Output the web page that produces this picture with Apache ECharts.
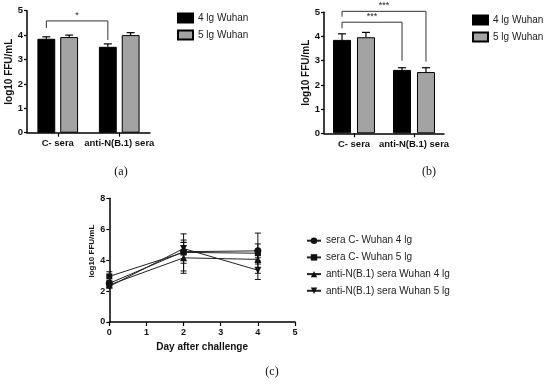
<!DOCTYPE html>
<html><head><meta charset="utf-8">
<script src="https://cdn.jsdelivr.net/npm/echarts@6/dist/echarts.min.js"></script>
<style>html,body{margin:0;padding:0;background:#fff}#c{width:550px;height:384px}</style>
</head><body><div id="c"></div>
<script>
// ---------- data ----------
const barCategories = ['C- sera', 'anti-N(B.1) sera'];
const seriesNames = ['4 lg Wuhan', '5 lg Wuhan'];
// panel (a)
const a4lg = [3.85, 3.52];
const a4lgErr = [0.08, 0.12];
const a5lg = [3.92, 4.00];
const a5lgErr = [0.08, 0.10];
// panel (b)
const b4lg = [3.86, 2.62];
const b4lgErr = [0.25, 0.09];
const b5lg = [3.97, 2.53];
const b5lgErr = [0.20, 0.18];
const barYTicks = [0, 1, 2, 3, 4, 5];
// significance brackets: [fromCat, fromSide, toCat, toSide, topY, leftLegBottom, rightLegBottom, label]
const aBrackets = [[0, -1, 1, -1, 4.58, 4.29, 3.80, '*']];
const bBrackets = [
  [0, -1, 1, -1, 4.59, 4.34, 3.00, '***'],
  [0, -1, 1, 1, 5.04, 4.82, 2.96, '***']
];
// panel (c)
const days = [0, 2, 4];
const lineNames = ['sera C- Wuhan 4 lg', 'sera C- Wuhan 5 lg', 'anti-N(B.1) sera Wuhan 4 lg', 'anti-N(B.1) sera Wuhan 5 lg'];
const cSeraC4 = [2.50, 4.55, 4.60];
const cSeraC4Err = [0.15, 0.75, 0.45];
const cSeraC5 = [2.95, 4.50, 4.45];
const cSeraC5Err = [0.30, 1.20, 1.30];
const cAnti4 = [2.40, 4.15, 4.05];
const cAnti4Err = [0.10, 1.00, 0.30];
const cAnti5 = [2.30, 4.75, 3.35];
const cAnti5Err = [0.10, 0.40, 0.60];
const cXTicks = [0, 1, 2, 3, 4, 5];
const cYTicks = [0, 2, 4, 6, 8];

// ---------- style constants ----------
const FONT = 'Liberation Sans';
const BW_A = 0.29, GAP_A = 0.28;
const BW_B = 0.30, GAP_B = 0.33;
const OFF_A = BW_A * (1 + GAP_A) / 2;
const OFF_B = BW_B * (1 + GAP_B) / 2;

function barErrRender(off) {
  return function (params, api) {
    const cat = api.value(0), side = api.value(1), v = api.value(2), e = api.value(3);
    const band = api.size([1, 0])[0];
    const p = api.coord([cat, v]);
    const x = p[0] + side * off * band;
    const top = api.coord([cat, v + e])[1];
    const st = { stroke: '#000', lineWidth: 1.2 };
    return { type: 'group', children: [
      { type: 'line', shape: { x1: x, y1: p[1], x2: x, y2: top }, style: st },
      { type: 'line', shape: { x1: x - 4, y1: top, x2: x + 4, y2: top }, style: st }
    ]};
  };
}
function bracketRender(off) {
  return function (params, api) {
    const band = api.size([1, 0])[0];
    const c1 = api.value(0), s1 = api.value(1), c2 = api.value(2), s2 = api.value(3);
    const yt = api.value(4), yl = api.value(5), yr = api.value(6);
    const x1 = api.coord([c1, 0])[0] + s1 * off * band;
    const x2 = api.coord([c2, 0])[0] + s2 * off * band;
    const t = api.coord([c1, yt])[1];
    const l = api.coord([c1, yl])[1];
    const r = api.coord([c1, yr])[1];
    const lbl = api.value(7);
    return { type: 'group', children: [
      { type: 'polyline', shape: { points: [[x1, l], [x1, t], [x2, t], [x2, r]] },
        style: { stroke: '#333', lineWidth: 1, fill: null } },
      { type: 'text', style: { text: lbl, x: (x1 + x2) / 2, y: t - 1, align: 'center', verticalAlign: 'bottom',
        fontSize: 9, fontFamily: FONT, fill: '#222' } }
    ]};
  };
}
function errPointRender(params, api) {
  const x = api.value(0), v = api.value(1), e = api.value(2);
  const p = api.coord([x, v]);
  const top = api.coord([x, v + e])[1];
  const bot = api.coord([x, v - e])[1];
  const st = { stroke: '#111', lineWidth: 1 };
  return { type: 'group', children: [
    { type: 'line', shape: { x1: p[0], y1: top, x2: p[0], y2: bot }, style: st },
    { type: 'line', shape: { x1: p[0] - 3, y1: top, x2: p[0] + 3, y2: top }, style: st },
    { type: 'line', shape: { x1: p[0] - 3, y1: bot, x2: p[0] + 3, y2: bot }, style: st }
  ]};
}

const axisLineStyle = { show: true, lineStyle: { color: '#000', width: 1.5 } };
const tickStyle = { show: true, length: 3, lineStyle: { color: '#000', width: 1.2 } };

function barX(gi) {
  return { type: 'category', gridIndex: gi, data: barCategories, axisLine: axisLineStyle,
    axisTick: { show: true, alignWithLabel: true, length: 4, lineStyle: { color: '#000', width: 1.2 } },
    axisLabel: { fontSize: 9.5, fontWeight: 'bold', fontFamily: FONT, color: '#111', margin: 6, interval: 0 } };
}
function barY(gi) {
  return { type: 'value', gridIndex: gi, min: barYTicks[0], max: barYTicks[barYTicks.length - 1], interval: 1,
    name: 'log10 FFU/mL', nameLocation: 'middle', nameGap: 11,
    nameTextStyle: { fontSize: 10, fontWeight: 'bold', fontFamily: FONT, color: '#111' },
    axisLine: axisLineStyle, axisTick: tickStyle, splitLine: { show: false },
    axisLabel: { fontSize: 9.5, fontWeight: 'bold', fontFamily: FONT, color: '#111', margin: 4 } };
}
function bars(name, vals, xi, bw, gap, color) {
  return { type: 'bar', name: name, xAxisIndex: xi, yAxisIndex: xi, data: vals,
    barWidth: (bw * 100) + '%', barGap: (gap * 100) + '%',
    itemStyle: { color: color, borderColor: '#000', borderWidth: 1 }, silent: true };
}
function errData(vals, errs, side) { return vals.map((v, i) => [i, side, v, errs[i]]); }
function ptErr(vals, errs) { return vals.map((v, i) => [days[i], v, errs[i]]); }
function line(name, vals, sym, rot) {
  return { type: 'line', name: name, xAxisIndex: 2, yAxisIndex: 2, data: days.map((d, i) => [d, vals[i]]),
    symbol: sym, symbolSize: sym === 'rect' ? 6 : 7, symbolRotate: rot || 0,
    itemStyle: { color: '#111' }, lineStyle: { color: '#222', width: 1 }, z: 3 };
}

const legendText = { fontSize: 10, fontFamily: FONT, color: '#222', lineHeight: 12 };

const option = {
  animation: false,
  backgroundColor: '#fff',
  grid: [
    { left: 27, top: 10.7, width: 123, height: 122 },
    { left: 324, top: 12.3, width: 120, height: 121 },
    { left: 109.3, top: 198.3, width: 185.7, height: 123.7 }
  ],
  xAxis: [barX(0), barX(1), {
    type: 'value', gridIndex: 2, min: cXTicks[0], max: cXTicks[cXTicks.length - 1], interval: 1,
    name: 'Day after challenge', nameLocation: 'middle', nameGap: 20,
    nameTextStyle: { fontSize: 10, fontWeight: 'bold', fontFamily: FONT, color: '#111' },
    axisLine: axisLineStyle, axisTick: { show: true, length: 4, lineStyle: { color: '#000', width: 1.2 } },
    splitLine: { show: false },
    axisLabel: { fontSize: 9, fontWeight: 'bold', fontFamily: FONT, color: '#111', margin: 6 }
  }],
  yAxis: [barY(0), barY(1), {
    type: 'value', gridIndex: 2, min: cYTicks[0], max: cYTicks[cYTicks.length - 1], interval: 2,
    name: 'log10 FFU/mL', nameLocation: 'middle', nameGap: 14,
    nameTextStyle: { fontSize: 8, fontWeight: 'bold', fontFamily: FONT, color: '#111', padding: [0, 0, 0, 18] },
    axisLine: axisLineStyle, axisTick: tickStyle, splitLine: { show: false },
    axisLabel: { fontSize: 9, fontWeight: 'bold', fontFamily: FONT, color: '#111', margin: 4 }
  }],
  legend: [
    { data: seriesNames, left: 172, top: 7, orient: 'vertical', icon: 'rect', itemWidth: 15, itemHeight: 9,
      itemGap: 5, textStyle: legendText, selectedMode: false },
    { data: seriesNames, left: 467, top: 9, orient: 'vertical', icon: 'rect', itemWidth: 15, itemHeight: 9,
      itemGap: 5, textStyle: legendText, selectedMode: false },
    { data: lineNames, left: 301, top: 229.7, orient: 'vertical', itemWidth: 14, itemHeight: 8,
      itemGap: 4.7, textStyle: legendText, selectedMode: false }
  ],
  graphic: [
    { type: 'text', x: 121, y: 172, style: { text: '(a)', fontSize: 12, fontFamily: 'Liberation Serif', fill: '#111', align: 'center', verticalAlign: 'middle' } },
    { type: 'text', x: 429, y: 172, style: { text: '(b)', fontSize: 12, fontFamily: 'Liberation Serif', fill: '#111', align: 'center', verticalAlign: 'middle' } },
    { type: 'text', x: 272, y: 372, style: { text: '(c)', fontSize: 12, fontFamily: 'Liberation Serif', fill: '#111', align: 'center', verticalAlign: 'middle' } }
  ],
  series: [
    bars(seriesNames[0], a4lg, 0, BW_A, GAP_A, '#000'),
    bars(seriesNames[1], a5lg, 0, BW_A, GAP_A, '#a3a3a3'),
    bars(seriesNames[0], b4lg, 1, BW_B, GAP_B, '#000'),
    bars(seriesNames[1], b5lg, 1, BW_B, GAP_B, '#a3a3a3'),
    { type: 'custom', xAxisIndex: 0, yAxisIndex: 0, renderItem: barErrRender(OFF_A),
      data: errData(a4lg, a4lgErr, -1).concat(errData(a5lg, a5lgErr, 1)), z: 1, silent: true },
    { type: 'custom', xAxisIndex: 1, yAxisIndex: 1, renderItem: barErrRender(OFF_B),
      data: errData(b4lg, b4lgErr, -1).concat(errData(b5lg, b5lgErr, 1)), z: 1, silent: true },
    { type: 'custom', xAxisIndex: 0, yAxisIndex: 0, renderItem: bracketRender(OFF_A), data: aBrackets,
      dimensions: ['c1', 's1', 'c2', 's2', 'yt', 'yl', 'yr', { name: 'lbl', type: 'ordinal' }], silent: true, clip: false },
    { type: 'custom', xAxisIndex: 1, yAxisIndex: 1, renderItem: bracketRender(OFF_B), data: bBrackets,
      dimensions: ['c1', 's1', 'c2', 's2', 'yt', 'yl', 'yr', { name: 'lbl', type: 'ordinal' }], silent: true, clip: false },
    line(lineNames[0], cSeraC4, 'circle'),
    line(lineNames[1], cSeraC5, 'rect'),
    line(lineNames[2], cAnti4, 'triangle'),
    line(lineNames[3], cAnti5, 'triangle', 180),
    { type: 'custom', xAxisIndex: 2, yAxisIndex: 2, renderItem: errPointRender, silent: true, z: 2,
      data: ptErr(cSeraC4, cSeraC4Err).concat(ptErr(cSeraC5, cSeraC5Err), ptErr(cAnti4, cAnti4Err), ptErr(cAnti5, cAnti5Err)) }
  ]
};
const chart = echarts.init(document.getElementById('c'), null, { renderer: 'canvas' });
chart.setOption(option);
</script></body></html>
